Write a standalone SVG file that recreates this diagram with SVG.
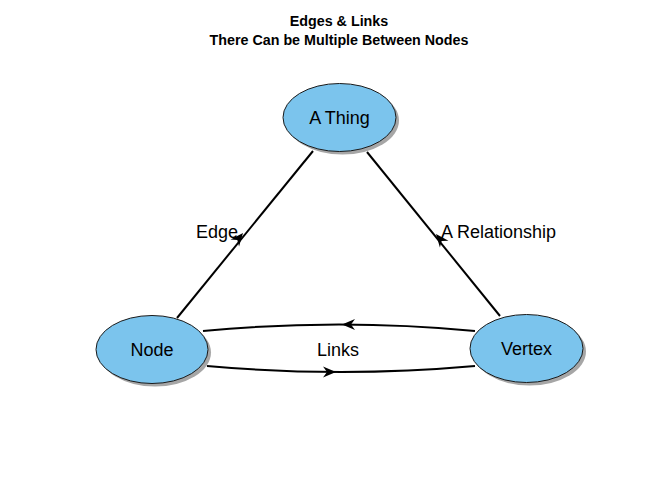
<svg xmlns="http://www.w3.org/2000/svg" width="650" height="480" viewBox="0 0 650 480">
<style>
text{font-family:"Liberation Sans",Arial,sans-serif;fill:#000}
.title{font-size:14.3px;font-weight:bold;text-anchor:middle}
.lbl{font-size:18px;text-anchor:middle}
.elbl{font-size:18px}
.shadow{fill:#a6a6a6}
.node{fill:#7bc4ed;stroke:#1a1a1a;stroke-width:1}
.edge{fill:none;stroke:#000;stroke-width:2}
</style>
<defs>
<path id="ah" d="M0,0 L-13,-5.5 L-9,0 L-13,5.5 Z" fill="#000"/>
</defs>
<rect width="650" height="480" fill="#fff"/>
<text class="title" x="339" y="26">Edges &amp; Links</text>
<text class="title" x="339" y="45">There Can be Multiple Between Nodes</text>
<g id="connectors">
<g id="edge-node-thing">
<line class="edge" x1="177" y1="318" x2="313" y2="151"/>
<use href="#ah" transform="translate(243,233) rotate(-50.8)"/>
</g>
<g id="edge-vertex-thing">
<line class="edge" x1="500" y1="316" x2="367" y2="152"/>
<use href="#ah" transform="translate(436,234) rotate(-129)"/>
</g>
<g id="link-vertex-node">
<path class="edge" d="M475,331 Q339,318 203,331"/>
<use href="#ah" transform="translate(342,324.5) rotate(180)"/>
</g>
<g id="link-node-vertex">
<path class="edge" d="M207,366 Q341,378 475,366"/>
<use href="#ah" transform="translate(336,372)"/>
</g>
<text class="elbl" x="196" y="238">Edge</text>
<text class="elbl" x="441" y="238">A Relationship</text>
<text class="lbl" x="338" y="356">Links</text>
</g>
<g id="thing">
<ellipse class="shadow" cx="342.5" cy="120.5" rx="56.5" ry="34"/>
<ellipse class="node" cx="339.5" cy="117.5" rx="56.5" ry="34"/>
<text class="lbl" x="339.5" y="124">A Thing</text>
</g>
<g id="node">
<ellipse class="shadow" cx="155" cy="352.5" rx="56" ry="34"/>
<ellipse class="node" cx="152" cy="349.5" rx="56" ry="34"/>
<text class="lbl" x="152" y="356">Node</text>
</g>
<g id="vertex">
<ellipse class="shadow" cx="529.5" cy="351.5" rx="56.5" ry="34"/>
<ellipse class="node" cx="526.5" cy="348.5" rx="56.5" ry="34"/>
<text class="lbl" x="526.5" y="355">Vertex</text>
</g>
</svg>
